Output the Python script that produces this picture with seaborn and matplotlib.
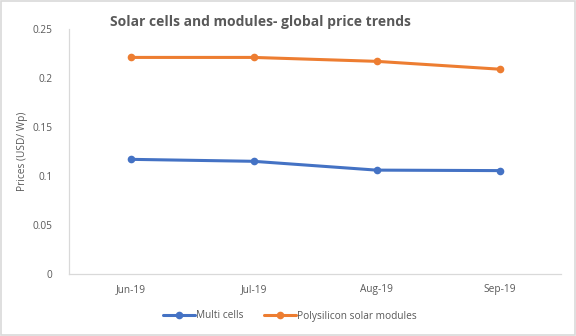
import matplotlib
matplotlib.use("Agg")
import matplotlib.pyplot as plt
import seaborn as sns
import pandas as pd

months = ["Jun-19", "Jul-19", "Aug-19", "Sep-19"]
multi_cells = [0.117, 0.115, 0.106, 0.1055]
poly_modules = [0.221, 0.221, 0.217, 0.209]
y_ticks = [0, 0.05, 0.1, 0.15, 0.2, 0.25]
y_tick_labels = ["0", "0.05", "0.1", "0.15", "0.2", "0.25"]

df = pd.DataFrame({
    "Month": months * 2,
    "Price": multi_cells + poly_modules,
    "Series": ["Multi cells"] * len(months) + ["Polysilicon solar modules"] * len(months),
})

sns.set_theme(style="white")
plt.rcParams["font.family"] = ["Open Sans", "DejaVu Sans"]

text_col = "#595959"
fig = plt.figure(figsize=(5.76, 3.36), dpi=100)
ax = fig.add_axes([69 / 576, 1 - 274 / 336, (561 - 69) / 576, (274 - 29) / 336])

sns.lineplot(
    data=df, x="Month", y="Price", hue="Series",
    palette=["#4472C4", "#ED7D31"], marker="o", markersize=5.5,
    markeredgewidth=0, linewidth=2.2, ax=ax, sort=False,
)

ax.set_xlim(-0.5, 3.5)
ax.set_ylim(0, 0.25)
ax.set_yticks(y_ticks)
ax.set_yticklabels(y_tick_labels)
ax.tick_params(axis="both", length=0, labelsize=7.3, labelcolor=text_col)
ax.tick_params(axis="x", pad=7)
ax.tick_params(axis="y", pad=12)
ax.set_xlabel("")
ax.set_ylabel("Prices (USD/ Wp)", fontsize=7.3, color=text_col, labelpad=3)
for side in ["top", "right"]:
    ax.spines[side].set_visible(False)
for side in ["left", "bottom"]:
    ax.spines[side].set_color("#D9D9D9")
    ax.spines[side].set_linewidth(0.9)

fig.text(0.453, 0.935, "Solar cells and modules- global price trends",
         ha="center", va="center", fontsize=10, fontweight="bold", color=text_col)

handles, labels = ax.get_legend_handles_labels()
ax.legend(handles, labels, loc="center", bbox_to_anchor=(290 / 576, 1 - 316 / 336),
          bbox_transform=fig.transFigure, ncol=2, frameon=False, fontsize=7.3,
          labelcolor=text_col, handlelength=3.2, handletextpad=0.1, columnspacing=2.0)

fig.patches.append(plt.Rectangle((0.002, 0.003), 0.996, 0.994, transform=fig.transFigure,
                                 fill=False, edgecolor="#D9D9D9", linewidth=1.2))

fig.savefig("out.png", dpi=100)
